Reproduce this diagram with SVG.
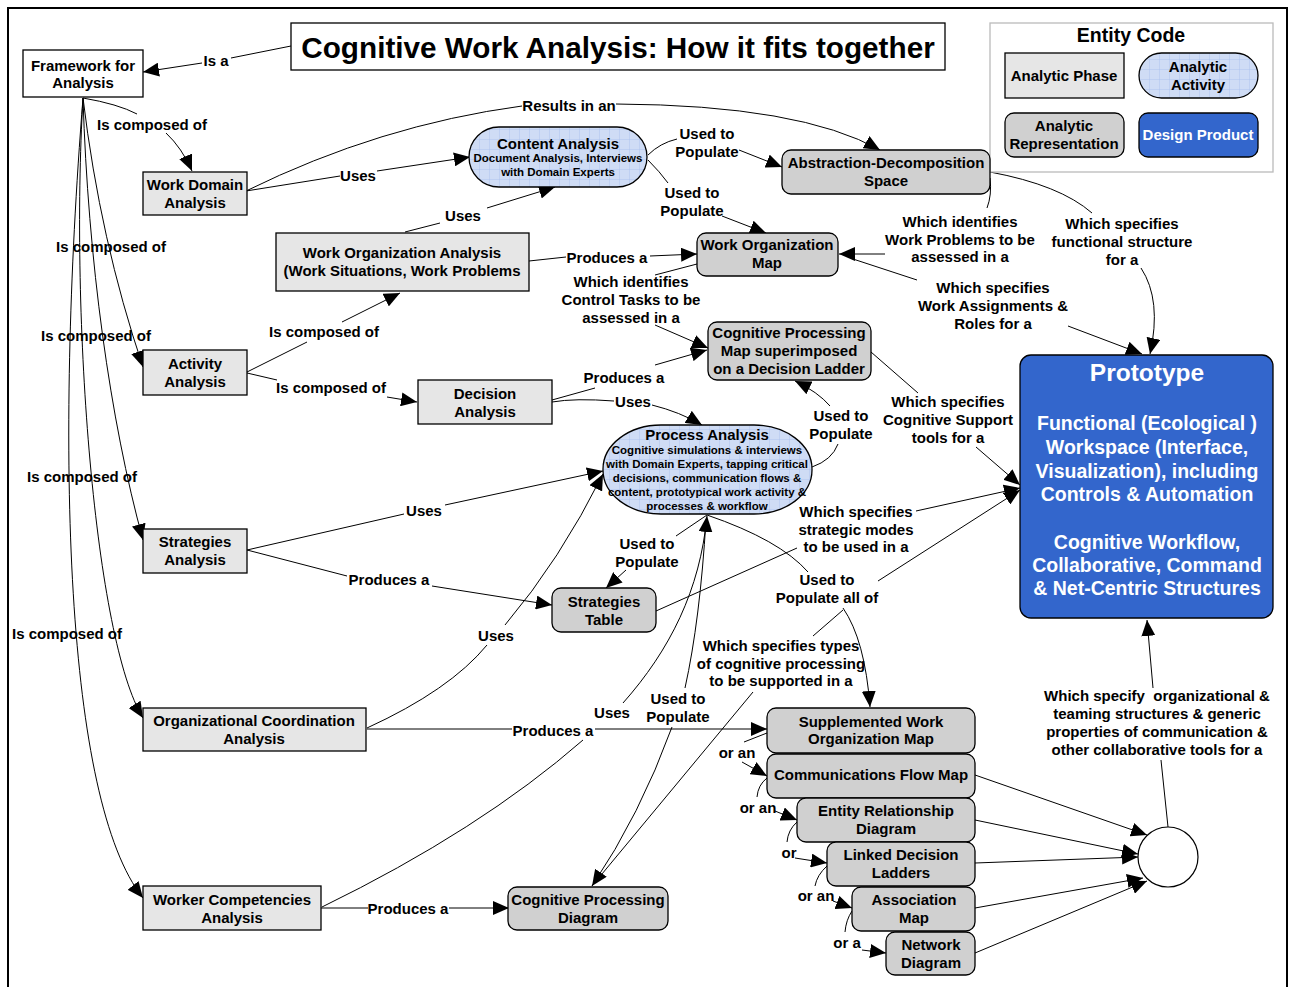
<svg xmlns="http://www.w3.org/2000/svg" width="1291" height="987" viewBox="0 0 1291 987">
<defs>
<style>
text{font-family:"Liberation Sans",Arial,sans-serif;font-weight:bold;font-size:15px;text-anchor:middle;dominant-baseline:central;fill:#000}
.ph{fill:#e6e6e6;stroke:#000;stroke-width:1.3}
.wh{fill:#fff;stroke:#000;stroke-width:1.3}
.rep{fill:#d0d0d0;stroke:#000;stroke-width:1.3}
.act{fill:url(#grid);stroke:#000;stroke-width:1.3}
.dp{fill:#3366cc;stroke:#000;stroke-width:1.3}
.c path{fill:none;stroke:#000;stroke-width:1}
.a{marker-end:url(#ah)}
.wt{fill:#fff}
.s{font-size:11.5px}
.p{font-size:19.5px}
</style>
<pattern id="grid" width="10" height="10" patternUnits="userSpaceOnUse">
<rect width="10" height="10" fill="#cfdcf5"/>
<path d="M10 0V10M0 10H10" stroke="#a6bcee" stroke-width="0.8" fill="none"/>
</pattern>
<marker id="ah" markerWidth="17" markerHeight="14" refX="16" refY="7" orient="auto" markerUnits="userSpaceOnUse"><path d="M0,0L16,7L0,14z" fill="#000"/></marker>
</defs>
<rect width="1291" height="987" fill="#fff"/>
<rect x="8" y="8" width="1279" height="990" fill="none" stroke="#000" stroke-width="2"/>

<g id="connectors" class="c">
<path d="M291,46 L231,58"/><path class="a" d="M202,63 L143,72"/>
<path d="M83,98 Q118,104 137,114"/><path class="a" d="M166,133 Q182,148 192,171"/>
<path class="a" d="M83,98 Q100,240 143,367"/>
<path class="a" d="M83,98 C88,260 110,420 143,540"/>
<path class="a" d="M83,98 C70,320 95,640 143,718"/>
<path class="a" d="M83,98 C55,450 65,800 143,898"/>
<path d="M246,191 L340,176"/><path class="a" d="M377,171 L470,157"/>
<path d="M246,191 Q380,125 522,106"/><path class="a" d="M616,104 Q800,105 880,150"/>
<path d="M648,155 Q660,143 677,139"/><path class="a" d="M739,150 L782,167"/>
<path d="M648,160 Q660,172 668,183"/><path class="a" d="M722,216 L766,233"/>
<path d="M405,232 L440,223"/><path class="a" d="M487,208 L555,187"/>
<path d="M529,261 L566,257"/><path class="a" d="M650,256 L697,254"/>
<path d="M697,264 L655,275"/><path class="a" d="M655,325 L708,348"/>
<path d="M990,178 Q992,195 987,208"/><path class="a" d="M885,254 L839,254"/>
<path d="M990,172 Q1060,185 1092,213"/><path class="a" d="M1141,268 Q1162,300 1150,354"/>
<path d="M853,259 L917,280"/><path class="a" d="M1068,326 L1142,354"/>
<path d="M247,372 L307,342"/><path class="a" d="M342,322 L400,293"/>
<path d="M247,373 L277,380"/><path class="a" d="M387,397 L417,402"/>
<path d="M552,400 L595,388"/><path class="a" d="M655,365 L707,350"/>
<path d="M552,402 Q575,398 614,401"/><path class="a" d="M652,405 Q680,412 702,425"/>
<path d="M871,352 L918,393"/><path class="a" d="M976,447 L1020,485"/>
<path d="M812,467 Q832,460 838,444"/><path class="a" d="M830,406 Q818,392 795,381"/>
<path d="M247,550 L404,514"/><path class="a" d="M445,505 L603,471"/>
<path d="M247,550 L347,576"/><path class="a" d="M432,586 L552,605"/>
<path d="M707,515 L676,536"/><path class="a" d="M626,570 L606,588"/>
<path d="M656,611 L797,548"/><path class="a" d="M916,511 L1020,488"/>
<path d="M707,515 Q780,540 808,572"/><path class="a" d="M843,608 Q865,640 870,707"/>
<path d="M592,886 L753,692"/><path d="M813,636 L843,610"/><path class="a" d="M878,581 L1020,490"/>
<path d="M367,728 Q450,690 487,645"/><path class="a" d="M505,625 Q560,560 603,474"/>
<path d="M367,729 L512,729"/><path class="a" d="M595,729 L767,729"/>
<path d="M322,907 Q480,830 583,740"/><path class="a" d="M623,703 C670,650 700,590 707,516"/>
<path d="M706,520 Q700,620 685,688"/><path class="a" d="M672,727 Q640,815 592,886"/>
<path d="M321,908 L368,908"/><path class="a" d="M449,908 L509,908"/>
<path d="M767,733 L744,742"/><path class="a" d="M742,762 L767,776"/>
<path d="M767,778 Q758,785 757,797"/><path class="a" d="M775,811 L797,820"/>
<path d="M797,822 Q788,830 787,842"/><path class="a" d="M795,858 L827,863"/>
<path d="M827,866 Q817,875 815,886"/><path class="a" d="M833,901 L852,908"/>
<path d="M852,911 Q846,920 845,932"/><path class="a" d="M862,950 L886,953"/>
<path class="a" d="M975,775 L1147,835"/>
<path class="a" d="M975,820 L1138,854"/>
<path class="a" d="M975,863 L1138,857"/>
<path class="a" d="M975,908 L1143,878"/>
<path class="a" d="M975,953 L1147,881"/>
<path d="M1168,827 L1161,760"/><path class="a" d="M1153,688 L1147,620"/>
</g>

<g id="labels">
<text x="216" y="60">Is a</text>
<text x="152" y="124">Is composed of</text>
<text x="111" y="246">Is composed of</text>
<text x="96" y="335">Is composed of</text>
<text x="82" y="476">Is composed of</text>
<text x="67" y="633">Is composed of</text>
<text x="358" y="175">Uses</text>
<text x="569" y="105">Results in an</text>
<text x="707" y="133">Used to</text><text x="707" y="151">Populate</text>
<text x="692" y="192">Used to</text><text x="692" y="210">Populate</text>
<text x="463" y="215">Uses</text>
<text x="607" y="257">Produces a</text>
<text x="631" y="281">Which identifies</text><text x="631" y="299">Control Tasks to be</text><text x="631" y="317">assessed in a</text>
<text x="960" y="221">Which identifies</text><text x="960" y="239">Work Problems to be</text><text x="960" y="256">assessed in a</text>
<text x="1122" y="223">Which specifies</text><text x="1122" y="241">functional structure</text><text x="1122" y="259">for a</text>
<text x="993" y="287">Which specifies</text><text x="993" y="305">Work Assignments &amp;</text><text x="993" y="323">Roles for a</text>
<text x="324" y="331">Is composed of</text>
<text x="331" y="387">Is composed of</text>
<text x="624" y="377">Produces a</text>
<text x="633" y="401">Uses</text>
<text x="841" y="415">Used to</text><text x="841" y="433">Populate</text>
<text x="948" y="401">Which specifies</text><text x="948" y="419">Cognitive Support</text><text x="948" y="437">tools for a</text>
<text x="424" y="510">Uses</text>
<text x="856" y="511">Which specifies</text><text x="856" y="529">strategic modes</text><text x="856" y="546">to be used in a</text>
<text x="647" y="543">Used to</text><text x="647" y="561">Populate</text>
<text x="389" y="579">Produces a</text>
<text x="827" y="579">Used to</text><text x="827" y="597">Populate all of</text>
<text x="496" y="635">Uses</text>
<text x="781" y="645">Which specifies types</text><text x="781" y="663">of cognitive processing</text><text x="781" y="680">to be supported in a</text>
<text x="678" y="698">Used to</text><text x="678" y="716">Populate</text>
<text x="612" y="712">Uses</text>
<text x="553" y="730">Produces a</text>
<text x="408" y="908">Produces a</text>
<text x="737" y="752">or an</text>
<text x="758" y="807">or an</text>
<text x="789" y="852">or</text>
<text x="816" y="895">or an</text>
<text x="847" y="942">or a</text>
<text x="1157" y="695" xml:space="preserve">Which specify  organizational &amp;</text><text x="1157" y="713">teaming structures &amp; generic</text><text x="1157" y="731">properties of communication &amp;</text><text x="1157" y="749">other collaborative tools for a</text>
</g>

<g id="title"><rect x="291" y="23" width="654" height="47" class="wh"/><text x="618" y="47" style="font-size:29.7px">Cognitive Work Analysis: How it fits together</text></g>

<g id="legend">
<rect x="990" y="23" width="283" height="149" fill="#fff" stroke="#bbb" stroke-width="1.3"/>
<text x="1131" y="35" class="p">Entity Code</text>
<rect x="1005" y="53" width="119" height="45" class="ph"/><text x="1064" y="75">Analytic Phase</text>
<rect x="1139" y="53" width="119" height="45" rx="22.5" class="act"/><text x="1198" y="66">Analytic</text><text x="1198" y="84">Activity</text>
<rect x="1005" y="113" width="119" height="44" rx="9" class="rep"/><text x="1064" y="125">Analytic</text><text x="1064" y="143">Representation</text>
<rect x="1139" y="113" width="119" height="44" rx="9" class="dp"/><text x="1198" y="134" class="wt">Design Product</text>
</g>

<g id="framework"><rect x="23" y="50" width="120" height="47" class="wh"/><text x="83" y="65">Framework for</text><text x="83" y="82">Analysis</text></g>
<g id="work-domain-analysis"><rect x="143" y="172" width="104" height="43" class="ph"/><text x="195" y="184">Work Domain</text><text x="195" y="202">Analysis</text></g>
<g id="content-analysis"><rect x="469" y="127" width="178" height="60" rx="30" class="act"/><text x="558" y="143">Content Analysis</text><text x="558" y="158" class="s">Document Analysis, Interviews</text><text x="558" y="172" class="s">with Domain Experts</text></g>
<g id="abstraction-decomposition-space"><rect x="782" y="150" width="208" height="44" rx="9" class="rep"/><text x="886" y="162">Abstraction-Decomposition</text><text x="886" y="180">Space</text></g>
<g id="work-organization-analysis"><rect x="276" y="233" width="253" height="58" class="ph"/><text x="402" y="252">Work Organization Analysis</text><text x="402" y="270">(Work Situations, Work Problems</text></g>
<g id="work-organization-map"><rect x="697" y="233" width="141" height="43" rx="9" class="rep"/><text x="767" y="244">Work Organization</text><text x="767" y="262">Map</text></g>
<g id="cognitive-processing-map"><rect x="708" y="322" width="163" height="58" rx="9" class="rep"/><text x="789" y="332">Cognitive Processing</text><text x="789" y="350">Map superimposed</text><text x="789" y="368">on a Decision Ladder</text></g>
<g id="activity-analysis"><rect x="143" y="350" width="104" height="45" class="ph"/><text x="195" y="363">Activity</text><text x="195" y="381">Analysis</text></g>
<g id="decision-analysis"><rect x="418" y="380" width="134" height="44" class="ph"/><text x="485" y="393">Decision</text><text x="485" y="411">Analysis</text></g>
<g id="process-analysis"><rect x="603" y="425" width="209" height="89" rx="58" ry="44" class="act"/><text x="707" y="434">Process Analysis</text><text x="707" y="450" class="s">Cognitive simulations &amp; interviews</text><text x="707" y="464" class="s">with Domain Experts, tapping critical</text><text x="707" y="478" class="s">decisions, communication flows &amp;</text><text x="707" y="492" class="s">content, prototypical work activity &amp;</text><text x="707" y="506" class="s">processes &amp; workflow</text></g>
<g id="strategies-analysis"><rect x="143" y="529" width="104" height="44" class="ph"/><text x="195" y="541">Strategies</text><text x="195" y="559">Analysis</text></g>
<g id="strategies-table"><rect x="552" y="588" width="104" height="44" rx="9" class="rep"/><text x="604" y="601">Strategies</text><text x="604" y="619">Table</text></g>
<g id="organizational-coordination-analysis"><rect x="143" y="708" width="223" height="43" class="ph"/><text x="254" y="720">Organizational Coordination</text><text x="254" y="738">Analysis</text></g>
<g id="worker-competencies-analysis"><rect x="143" y="886" width="178" height="44" class="ph"/><text x="232" y="899">Worker Competencies</text><text x="232" y="917">Analysis</text></g>
<g id="cognitive-processing-diagram"><rect x="508" y="887" width="160" height="43" rx="9" class="rep"/><text x="588" y="899">Cognitive Processing</text><text x="588" y="917">Diagram</text></g>
<g id="supplemented-work-organization-map"><rect x="767" y="708" width="208" height="45" rx="9" class="rep"/><text x="871" y="721">Supplemented Work</text><text x="871" y="738">Organization Map</text></g>
<g id="communications-flow-map"><rect x="767" y="754" width="208" height="44" rx="9" class="rep"/><text x="871" y="774">Communications Flow Map</text></g>
<g id="entity-relationship-diagram"><rect x="797" y="798" width="178" height="44" rx="9" class="rep"/><text x="886" y="810">Entity Relationship</text><text x="886" y="828">Diagram</text></g>
<g id="linked-decision-ladders"><rect x="827" y="842" width="148" height="44" rx="9" class="rep"/><text x="901" y="854">Linked Decision</text><text x="901" y="872">Ladders</text></g>
<g id="association-map"><rect x="852" y="887" width="123" height="44" rx="9" class="rep"/><text x="914" y="899">Association</text><text x="914" y="917">Map</text></g>
<g id="network-diagram"><rect x="886" y="932" width="89" height="43" rx="9" class="rep"/><text x="931" y="944">Network</text><text x="931" y="962">Diagram</text></g>
<g id="junction"><circle cx="1168" cy="857" r="30" fill="#fff" stroke="#000" stroke-width="1.2"/></g>
<g id="prototype"><rect x="1020" y="355" width="253" height="263" rx="11" class="dp"/>
<text x="1147" y="372" class="wt" style="font-size:24.5px">Prototype</text>
<text x="1147" y="423" class="wt p">Functional (Ecological )</text>
<text x="1147" y="447" class="wt p">Workspace (Interface,</text>
<text x="1147" y="471" class="wt p">Visualization), including</text>
<text x="1147" y="494" class="wt p">Controls &amp; Automation</text>
<text x="1147" y="542" class="wt p">Cognitive Workflow,</text>
<text x="1147" y="565" class="wt p">Collaborative, Command</text>
<text x="1147" y="588" class="wt p">&amp; Net-Centric Structures</text>
</g>
</svg>
